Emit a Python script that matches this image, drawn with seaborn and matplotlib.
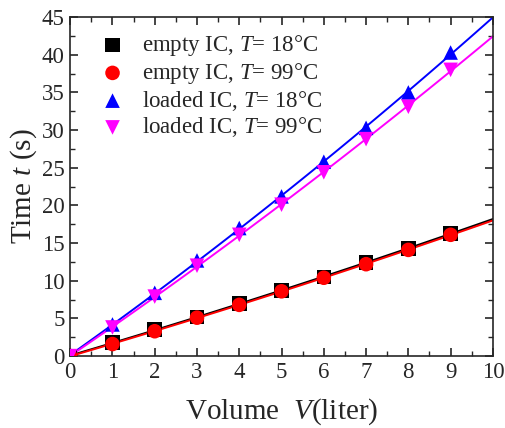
import numpy as np
import pandas as pd
import matplotlib
matplotlib.use("Agg")
import matplotlib.pyplot as plt
import seaborn as sns
from matplotlib.ticker import MultipleLocator

volume = [0, 1, 2, 3, 4, 5, 6, 7, 8, 9]
empty_18 = [0, 1.8, 3.5, 5.2, 7.0, 8.7, 10.5, 12.4, 14.3, 16.3]
empty_99 = [0, 1.6, 3.3, 5.1, 6.8, 8.6, 10.4, 12.2, 14.1, 16.1]
loaded_18 = [0, 4.2, 8.4, 12.7, 17.0, 21.2, 25.8, 30.3, 35.0, 40.3]
loaded_99 = [0, 3.8, 7.9, 12.0, 16.1, 20.1, 24.4, 28.8, 33.1, 38.0]

labels = ["empty IC, $T$= 18°C", "empty IC, $T$= 99°C",
          "loaded IC, $T$= 18°C", "loaded IC, $T$= 99°C"]
colors = ["black", "red", "blue", "magenta"]
markers = ["s", "o", "^", "v"]
line_colors = ["black", "red", "blue", "magenta"]

sns.set_style("ticks")
plt.rcParams["font.family"] = ["Liberation Serif", "DejaVu Serif"]
plt.rcParams["mathtext.fontset"] = "custom"
plt.rcParams["mathtext.rm"] = "Liberation Serif"
plt.rcParams["mathtext.it"] = "Liberation Serif:italic"

fig = plt.figure(figsize=(5.05, 4.28), dpi=100)
ax = fig.add_axes([0.139, 0.168, 0.837, 0.792])

series = [empty_18, empty_99, loaded_18, loaded_99]
xfit = np.linspace(0, 10, 50)

# fitted curves first, then markers on top
for ys, lc in zip(series, line_colors):
    coef = np.polyfit(volume, ys, 2)
    sns.lineplot(x=xfit, y=np.polyval(coef, xfit), color=lc, lw=1.4, ax=ax)

for ys, lab, c, m in zip(series, labels, colors, markers):
    df = pd.DataFrame({"V": volume, "t": ys})
    sns.scatterplot(data=df, x="V", y="t", color=c, marker=m, s=110,
                    edgecolor="none", label=lab, ax=ax, zorder=3)

ax.set_xlim(0, 10)
ax.set_ylim(0, 45)
ax.xaxis.set_major_locator(MultipleLocator(1))
ax.xaxis.set_minor_locator(MultipleLocator(0.5))
ax.yaxis.set_major_locator(MultipleLocator(5))
ax.yaxis.set_minor_locator(MultipleLocator(2.5))
ax.tick_params(which="both", direction="in", top=True, right=True, labelsize=16.5)
ax.tick_params(which="major", length=6, width=1.2, pad=4)
ax.tick_params(which="minor", length=3.5, width=1.0)
for sp in ax.spines.values():
    sp.set_linewidth(1.2)

ax.set_xlabel("Volume  $V$(liter)", fontsize=21, labelpad=10)
ax.set_ylabel("Time $t$ (s)", fontsize=21, labelpad=2)

ax.legend(loc="upper left", frameon=False, fontsize=16.5, handletextpad=0.3,
          borderaxespad=0.3, labelspacing=0.12, markerscale=1.0,
          bbox_to_anchor=(0.008, 1.0))

fig.savefig("out.png", dpi=100)
